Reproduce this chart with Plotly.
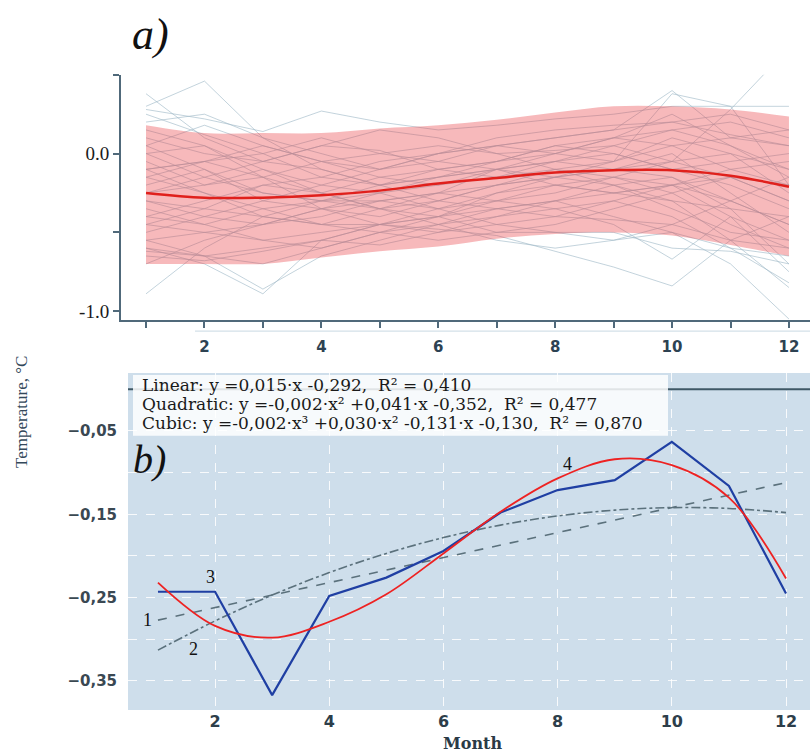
import plotly.graph_objects as go

W, H = 810, 754

months = list(range(1, 13))

# ---------- Panel a: individual years (estimated) ----------
years_lines = [
    [0.38, 0.10, -0.05, 0.05, 0.02, -0.10, -0.05, 0.05, 0.10, 0.25, 0.05, -0.15],
    [0.30, 0.46, 0.10, -0.10, -0.20, -0.15, -0.05, 0.00, 0.10, 0.15, 0.20, 0.10],
    [0.28, 0.22, 0.14, 0.27, 0.20, 0.15, 0.18, 0.22, 0.25, 0.30, 0.30, 0.30],
    [-0.89, -0.60, -0.40, -0.30, -0.25, -0.20, -0.15, -0.10, -0.15, -0.20, -0.30, -0.45],
    [-0.60, -0.70, -0.89, -0.55, -0.45, -0.40, -0.35, -0.30, -0.40, -0.50, -0.70, -1.05],
    [-0.55, -0.65, -0.86, -0.65, -0.55, -0.45, -0.40, -0.35, -0.30, -0.40, -0.60, -0.82],
    [0.05, -0.10, -0.30, -0.20, -0.10, 0.00, 0.05, 0.10, 0.15, 0.40, 0.10, 0.05],
    [-0.15, -0.25, -0.40, -0.45, -0.45, -0.48, -0.52, -0.62, -0.72, -0.84, -0.55, -0.40],
    [-0.40, -0.45, -0.35, -0.30, -0.35, -0.40, -0.30, -0.35, -0.45, -0.67, -0.40, -0.55],
    [-0.10, -0.05, -0.15, -0.05, 0.00, 0.05, 0.00, 0.02, 0.05, -0.05, 0.28, 0.67],
    [-0.45, -0.50, -0.55, -0.60, -0.50, -0.40, -0.25, -0.15, -0.05, 0.05, 0.10, 0.15],
    [0.00, 0.05, -0.10, -0.25, -0.35, -0.30, -0.20, -0.10, -0.05, 0.38, 0.30, -0.20],
    [-0.65, -0.68, -0.62, -0.55, -0.58, -0.50, -0.45, -0.40, -0.42, -0.45, -0.55, -0.60],
    [-0.30, -0.35, -0.20, -0.25, -0.15, -0.10, -0.15, -0.05, 0.00, -0.10, -0.20, -0.35],
    [0.15, 0.05, -0.15, -0.35, -0.45, -0.50, -0.40, -0.30, -0.20, -0.15, -0.35, -0.70],
    [-0.50, -0.40, -0.30, -0.35, -0.40, -0.30, -0.20, -0.15, -0.10, 0.00, -0.25, -0.50],
    [-0.10, -0.25, -0.35, -0.45, -0.50, -0.45, -0.35, -0.30, -0.25, -0.20, -0.40, -0.75],
    [-0.70, -0.55, -0.45, -0.40, -0.30, -0.25, -0.20, -0.15, -0.10, -0.05, 0.00, -0.10],
    [0.20, 0.25, 0.10, 0.00, -0.10, -0.05, 0.05, 0.10, 0.15, 0.20, 0.25, 0.15],
    [-0.25, -0.15, -0.05, -0.10, -0.20, -0.30, -0.35, -0.40, -0.30, -0.20, -0.10, -0.05],
    [-0.35, -0.45, -0.55, -0.50, -0.45, -0.35, -0.30, -0.20, -0.15, -0.25, -0.45, -0.60],
    [0.10, 0.00, -0.05, 0.05, 0.15, 0.10, 0.00, -0.10, -0.20, -0.30, -0.35, -0.40],
    [-0.60, -0.65, -0.70, -0.60, -0.50, -0.55, -0.50, -0.45, -0.35, -0.25, -0.15, -0.30],
    [-0.05, -0.20, -0.10, -0.20, -0.25, -0.35, -0.45, -0.50, -0.55, -0.50, -0.60, -0.65],
    [-0.40, -0.30, -0.20, -0.15, -0.05, 0.00, 0.05, 0.00, -0.05, 0.10, 0.00, -0.25],
    [-0.15, -0.05, 0.05, -0.05, -0.15, -0.20, -0.10, -0.05, 0.05, 0.15, 0.05, -0.10],
    [-0.55, -0.50, -0.45, -0.35, -0.30, -0.35, -0.25, -0.20, -0.25, -0.30, -0.55, -0.85],
    [0.25, 0.12, 0.00, -0.15, -0.20, -0.10, -0.05, 0.05, 0.00, -0.10, -0.05, 0.00],
    [-0.20, -0.10, -0.25, -0.30, -0.20, -0.15, -0.10, -0.05, -0.10, -0.15, -0.30, -0.45],
    [-0.45, -0.35, -0.40, -0.45, -0.35, -0.25, -0.10, 0.00, 0.10, 0.05, -0.10, -0.20],
    [-0.30, -0.40, -0.45, -0.35, -0.25, -0.15, -0.10, -0.15, -0.20, -0.35, -0.50, -0.55],
    [0.00, -0.15, -0.25, -0.30, -0.30, -0.25, -0.30, -0.25, -0.15, -0.05, -0.15, -0.30],
    [-0.62, -0.65, -0.60, -0.55, -0.45, -0.40, -0.50, -0.50, -0.50, -0.60, -0.62, -0.70],
    [0.05, 0.18, 0.05, -0.05, -0.10, 0.00, 0.10, 0.15, 0.18, 0.20, 0.12, 0.05],
    [-0.10, -0.05, 0.00, 0.10, 0.00, -0.05, -0.10, -0.20, -0.25, -0.20, -0.15, -0.20],
    [-0.25, -0.20, -0.15, -0.25, -0.35, -0.45, -0.55, -0.60, -0.55, -0.45, -0.30, -0.15],
]

band_upper = [0.18, 0.13, 0.13, 0.13, 0.16, 0.18, 0.215, 0.26, 0.30, 0.30, 0.28, 0.235]
band_lower = [-0.70, -0.70, -0.70, -0.66, -0.62, -0.59, -0.54, -0.51, -0.50, -0.52, -0.58, -0.65]
mean_line = [-0.25, -0.28, -0.28, -0.265, -0.235, -0.19, -0.155, -0.12, -0.105, -0.105, -0.14, -0.21]

a_ytickvals = [0.5, 0.0, -0.5, -1.0]
a_yticktext = ["", "0.0", "", "-1.0"]
a_xticktext = ["" if m % 2 else str(m) for m in months]

# ---------- Panel b ----------
observed = [-0.243, -0.243, -0.367, -0.248, -0.226, -0.194, -0.148, -0.121, -0.109, -0.063, -0.116, -0.245]
cubic_fit = [-0.232, -0.284, -0.298, -0.279, -0.246, -0.197, -0.147, -0.107, -0.084, -0.091, -0.130, -0.227]
linear_fit = [-0.277, -0.262, -0.247, -0.232, -0.217, -0.202, -0.187, -0.172, -0.157, -0.142, -0.127, -0.112]
quad_fit = [-0.313, -0.278, -0.247, -0.220, -0.197, -0.178, -0.163, -0.152, -0.145, -0.142, -0.143, -0.148]

b_ytickvals = [0.0, -0.05, -0.10, -0.15, -0.20, -0.25, -0.30, -0.35]
b_yticktext = ["", "\u22120,05", "", "\u22120,15", "", "\u22120,25", "", "\u22120,35"]
b_xtickvals = [2, 4, 6, 8, 10, 12]

eq_lines = [
    "Linear: y =0,015\u00b7x -0,292,  R\u00b2 = 0,410",
    "Quadratic: y =-0,002\u00b7x\u00b2 +0,041\u00b7x -0,352,  R\u00b2 = 0,477",
    "Cubic: y =-0,002\u00b7x\u00b3 +0,030\u00b7x\u00b2 -0,131\u00b7x -0,130,  R\u00b2 = 0,870",
]
curve_labels = ["1", "2", "3", "4"]

fig = go.Figure()

for ys in years_lines:
    fig.add_trace(go.Scatter(x=months, y=ys, mode="lines", xaxis="x", yaxis="y",
                             line=dict(color="rgba(158,184,199,0.62)", width=1),
                             hoverinfo="skip", showlegend=False))

fig.add_trace(go.Scatter(x=months, y=band_upper, mode="lines", line=dict(width=0, shape="spline"),
                         xaxis="x", yaxis="y", showlegend=False, hoverinfo="skip"))
fig.add_trace(go.Scatter(x=months, y=band_lower, mode="lines", line=dict(width=0, shape="spline"),
                         fill="tonexty", fillcolor="rgba(234,60,66,0.36)",
                         xaxis="x", yaxis="y", showlegend=False, hoverinfo="skip"))
fig.add_trace(go.Scatter(x=months, y=mean_line, mode="lines",
                         line=dict(color="#e0201c", width=2.5, shape="spline"),
                         xaxis="x", yaxis="y", showlegend=False))

# panel b traces
fig.add_trace(go.Scatter(x=months, y=linear_fit, mode="lines", xaxis="x2", yaxis="y2",
                         line=dict(color="#5b717c", width=1.6, dash="dash"), showlegend=False))
fig.add_trace(go.Scatter(x=months, y=quad_fit, mode="lines", xaxis="x2", yaxis="y2",
                         line=dict(color="#5b717c", width=1.6, dash="dashdot", shape="spline"),
                         showlegend=False))
fig.add_trace(go.Scatter(x=months, y=observed, mode="lines", xaxis="x2", yaxis="y2",
                         line=dict(color="#1f3fa3", width=2.2), showlegend=False))
fig.add_trace(go.Scatter(x=months, y=cubic_fit, mode="lines", xaxis="x2", yaxis="y2",
                         line=dict(color="#ee2222", width=1.8, shape="spline"), showlegend=False))

axis_col = "#50697a"

def px(x):
    return x / W

def py(y):
    return 1 - y / H

fig.update_layout(
    width=W, height=H,
    margin=dict(l=0, r=0, t=0, b=0),
    paper_bgcolor="white", plot_bgcolor="white",
    xaxis=dict(domain=[px(121), 1], range=[0.572, 12.36], anchor="y",
               tickvals=months, ticktext=a_xticktext, ticks="outside", ticklen=6,
               tickwidth=1.5, tickcolor=axis_col, showline=True, linecolor=axis_col,
               linewidth=2, showgrid=False, zeroline=False, ticklabelstandoff=6,
               tickfont=dict(family="DejaVu Sans", size=15, color="#2d4252", weight="bold")),
    yaxis=dict(domain=[py(321), py(75)], range=[-1.057, 0.5], anchor="x",
               tickvals=a_ytickvals, ticktext=a_yticktext, ticks="outside", ticklen=6,
               tickwidth=1.5, tickcolor=axis_col, showline=True, linecolor=axis_col,
               linewidth=2, showgrid=False, zeroline=False,
               tickfont=dict(family="Liberation Serif", size=19, color="#1a1a1a")),
    xaxis2=dict(domain=[px(128), 1], range=[0.475, 12.42], anchor="y2",
                tickvals=b_xtickvals, ticks="", showline=False, showgrid=True,
                gridcolor="rgba(255,255,255,0.85)", griddash="dash", gridwidth=1,
                zeroline=False,
                tickfont=dict(family="DejaVu Sans", size=16, color="#2d3e4a", weight="bold")),
    yaxis2=dict(domain=[py(712), py(374)], range=[-0.385, 0.0195], anchor="x2",
                tickvals=b_ytickvals, ticktext=b_yticktext, ticks="", showline=False,
                showgrid=True, gridcolor="rgba(255,255,255,0.85)", griddash="dash",
                gridwidth=1, zeroline=False, ticklabelstandoff=10,
                tickfont=dict(family="DejaVu Sans", size=15, color="#3a4852", weight="bold")),
)

shapes = [
    dict(type="rect", xref="x2 domain", yref="y2 domain", x0=0, x1=1, y0=0, y1=1,
         fillcolor="#cedeeb", line=dict(width=0), layer="below"),
    dict(type="line", xref="x2 domain", yref="y2", x0=0, x1=1, y0=0, y1=0,
         line=dict(color="#3f5866", width=2), layer="above"),
    dict(type="rect", xref="paper", yref="paper", x0=px(133), x1=px(668), y0=py(437), y1=py(376),
         fillcolor="rgba(255,255,255,0.84)", line=dict(width=0), layer="above"),
    dict(type="line", xref="paper", yref="paper", x0=px(195), x1=1, y0=py(332), y1=py(332),
         line=dict(color="#d3e0e8", width=1.2), layer="above"),
]
fig.update_layout(shapes=shapes)

ann = []
ann.append(dict(text="<i>a)</i>", x=px(150), y=py(35), xref="paper", yref="paper",
                xanchor="center", yanchor="middle",
                showarrow=False, font=dict(family="Liberation Serif", size=44, color="#111")))
ann.append(dict(text="<i>b)</i>", x=px(149), y=py(461), xref="paper", yref="paper",
                xanchor="center", yanchor="middle",
                showarrow=False, font=dict(family="Liberation Serif", size=40, color="#111")))
for t, yy in zip(eq_lines, [386, 405, 424]):
    ann.append(dict(text=t, x=px(140), y=py(yy), xref="paper", yref="paper",
                    xanchor="left", yanchor="middle",
                    showarrow=False, font=dict(family="DejaVu Serif", size=17, color="#1a1a1a")))
ann.append(dict(text="Temperature, \u00b0C", x=px(22), y=py(413), xref="paper", yref="paper",
                xanchor="center", yanchor="middle",
                textangle=-90, showarrow=False,
                font=dict(family="Liberation Serif", size=17, color="#33485a")))
ann.append(dict(text="<b>Month</b>", x=px(472), y=py(745), xref="paper", yref="paper",
                xanchor="center", yanchor="middle",
                showarrow=False, font=dict(family="DejaVu Serif", size=16, color="#2a3a46")))
label_pos = [(147, 622), (193, 651), (210, 579), (567, 465)]
for t, (lx, ly) in zip(curve_labels, label_pos):
    ann.append(dict(text=t, x=px(lx), y=py(ly), xref="paper", yref="paper",
                    xanchor="center", yanchor="middle", showarrow=False,
                    font=dict(family="Liberation Serif", size=18, color="#111")))
fig.update_layout(annotations=ann)

fig.write_html("out.html", config={"displayModeBar": False},
               post_script="document.body.style.margin='0';")
